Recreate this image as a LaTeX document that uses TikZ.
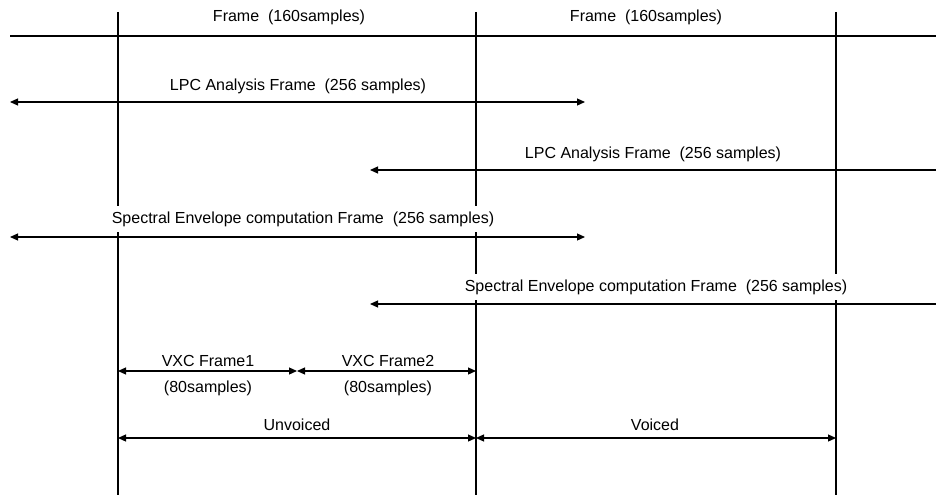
\documentclass[tikz,border=0pt]{standalone}
\usepackage{fontspec}
\setmainfont{Liberation Sans}
\usetikzlibrary{arrows.meta}
\begin{document}
\begin{tikzpicture}[x=1pt,y=-1pt,
  lbl/.style={font=\fontsize{16}{19}\selectfont, fill=white, inner xsep=1pt, inner ysep=5pt,
    text height=12pt, text depth=4pt, anchor=base},
  ln/.style={line width=1.2pt},
  dim/.style={line width=1.2pt, {Triangle[length=8pt,width=7pt]}-{Triangle[length=8pt,width=7pt]}},
  ldim/.style={line width=1.2pt, {Triangle[length=8pt,width=7pt]}-}]
\useasboundingbox (0,0) rectangle (936,495);
% vertical lines
\coordinate (v1t) at (118,12); \coordinate (v1b) at (118,495);
\coordinate (v2t) at (476,12); \coordinate (v2b) at (476,495);
\coordinate (v3t) at (836,12); \coordinate (v3b) at (836,495);
\draw[ln] (v1t) -- (v1b);
\draw[ln] (v2t) -- (v2b);
\draw[ln] (v3t) -- (v3b);
% labels (white background hides the vertical lines behind them)
\node[lbl] (f1) at (289,21.5) {Frame\ \ (160samples)};
\node[lbl] (f2) at (646,21.5) {Frame\ \ (160samples)};
\node[lbl] (t1) at (298,90) {LPC Analysis Frame\ \ (256 samples)};
\node[lbl] (t2) at (653,158) {LPC Analysis Frame\ \ (256 samples)};
\node[lbl] (t3) at (303,223) {Spectral Envelope computation Frame\ \ (256 samples)};
\node[lbl] (t4) at (656,291) {Spectral Envelope computation Frame\ \ (256 samples)};
\node[lbl] (x1) at (208,366) {VXC Frame1};
\node[lbl] (x2) at (388,366) {VXC Frame2};
\node[lbl] (s1) at (208,392) {(80samples)};
\node[lbl] (s2) at (388,392) {(80samples)};
\node[lbl] (uv) at (297,430) {Unvoiced};
\node[lbl] (vo) at (655,430) {Voiced};
% top line
\coordinate (h0l) at (10,36); \coordinate (h0r) at (936,36);
\draw[ln] (h0l) -- (h0r);
% LPC 1
\coordinate (a1l) at (10,102); \coordinate (a1r) at (585,102);
\draw[dim] (a1l) -- (a1r);
% LPC 2
\coordinate (a2l) at (370,170); \coordinate (a2r) at (936,170);
\draw[ldim] (a2l) -- (a2r);
% Spectral 1
\coordinate (a3l) at (10,237); \coordinate (a3r) at (585,237);
\draw[dim] (a3l) -- (a3r);
% Spectral 2
\coordinate (a4l) at (370,304); \coordinate (a4r) at (936,304);
\draw[ldim] (a4l) -- (a4r);
% VXC
\coordinate (vx1) at (118,371); \coordinate (vx2) at (297,371); \coordinate (vx3) at (476,371);
\draw[dim] (vx1) -- (vx2);
\draw[dim] (vx2) -- (vx3);
% Unvoiced / Voiced
\coordinate (u1) at (118,438); \coordinate (u2) at (476,438); \coordinate (u3) at (836,438);
\draw[dim] (u1) -- (u2);
\draw[dim] (u2) -- (u3);
\end{tikzpicture}
\end{document}
